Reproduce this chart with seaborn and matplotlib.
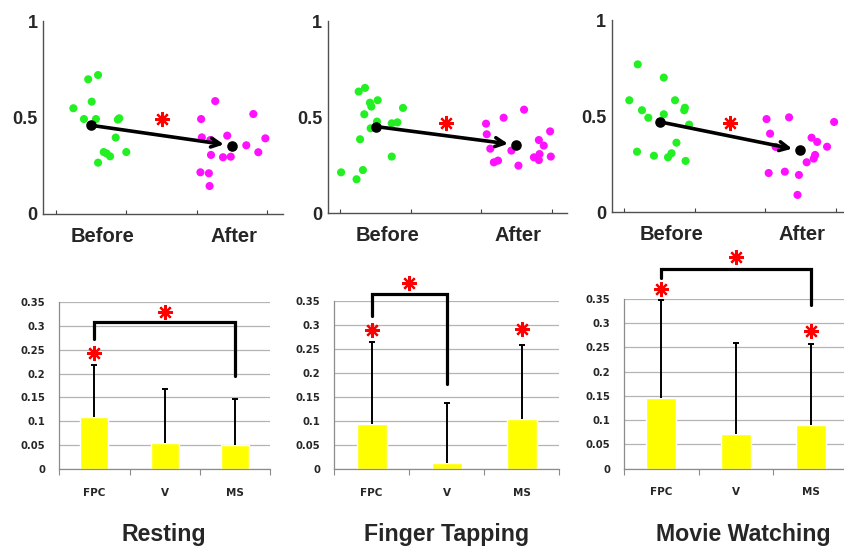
import numpy as np
import pandas as pd
import matplotlib
matplotlib.use("Agg")
import matplotlib.pyplot as plt
import seaborn as sns

# ---------------------------------------------------------------- data
conditions = ["Resting", "Finger Tapping", "Movie Watching"]
phases = ["Before", "After"]

# per-subject values (x = jittered position, y = value)
rest_before_x = [1.25, 1.46, 1.60, 1.51, 1.40, 1.57, 1.88, 1.90, 1.85, 1.68, 1.72, 1.77, 2.00, 1.60]
rest_before_y = [0.548, 0.698, 0.720, 0.582, 0.492, 0.492, 0.489, 0.496, 0.396, 0.321, 0.314, 0.299, 0.321, 0.266]
rest_after_x = [3.06, 3.26, 3.07, 3.19, 3.43, 3.20, 3.37, 3.48, 3.05, 3.17, 3.18, 3.70, 3.80, 3.87, 3.97]
rest_after_y = [0.492, 0.585, 0.397, 0.383, 0.406, 0.306, 0.294, 0.297, 0.216, 0.211, 0.145, 0.356, 0.518, 0.320, 0.392]

tap_before_x = [1.01, 1.23, 1.32, 1.28, 1.26, 1.35, 1.34, 1.42, 1.44, 1.53, 1.52, 1.43, 1.73, 1.81, 1.89, 1.73]
tap_before_y = [0.213, 0.177, 0.225, 0.385, 0.633, 0.652, 0.515, 0.575, 0.555, 0.588, 0.477, 0.442, 0.468, 0.473, 0.548, 0.295]
tap_after_x = [3.07, 3.08, 3.32, 3.61, 3.13, 3.18, 3.24, 3.43, 3.53, 3.82, 3.89, 3.83, 3.75, 3.82, 3.99, 3.98]
tap_after_y = [0.466, 0.411, 0.497, 0.539, 0.336, 0.265, 0.274, 0.326, 0.248, 0.381, 0.352, 0.308, 0.291, 0.277, 0.295, 0.426]

movie_before_x = [1.19, 1.07, 1.25, 1.34, 1.18, 1.42, 1.56, 1.56, 1.72, 1.85, 1.86, 1.92, 1.74, 1.62, 1.67, 1.87]
movie_before_y = [0.769, 0.582, 0.530, 0.491, 0.314, 0.293, 0.700, 0.509, 0.582, 0.530, 0.543, 0.455, 0.361, 0.285, 0.306, 0.266]
movie_after_x = [3.02, 3.34, 3.07, 3.98, 3.66, 3.74, 3.88, 3.15, 3.71, 3.69, 3.59, 3.05, 3.28, 3.48, 3.46]
movie_after_y = [0.484, 0.493, 0.408, 0.469, 0.387, 0.365, 0.340, 0.339, 0.297, 0.278, 0.259, 0.203, 0.210, 0.193, 0.089]

scatter_sets = [
    (rest_before_x, rest_before_y, rest_after_x, rest_after_y),
    (tap_before_x, tap_before_y, tap_after_x, tap_after_y),
    (movie_before_x, movie_before_y, movie_after_x, movie_after_y),
]
change_star_y = [0.492, 0.468, 0.465]

# bar charts per region
regions = ["FPC", "V", "MS"]
rest_mean = [0.110, 0.055, 0.050]
rest_upper = [0.218, 0.168, 0.146]
tap_mean = [0.095, 0.013, 0.105]
tap_upper = [0.265, 0.138, 0.259]
movie_mean = [0.145, 0.072, 0.090]
movie_upper = [0.348, 0.258, 0.257]
bar_means = [rest_mean, tap_mean, movie_mean]
bar_uppers = [rest_upper, tap_upper, movie_upper]

star_regions = [[0], [0, 2], [0, 2]]
star_heights = [[0.242], [0.289, 0.292], [0.371, 0.283]]
bracket_ends = [(0, 2), (0, 1), (0, 2)]
bracket_top = [0.308, 0.364, 0.412]
bracket_left_foot = [0.272, 0.318, 0.393]
bracket_right_foot = [0.195, 0.178, 0.337]
bracket_star = [0.329, 0.387, 0.436]

# ---------------------------------------------------------------- style
sns.set_theme(style="white")
plt.rcParams["font.family"] = ["Liberation Sans", "DejaVu Sans"]

GREEN = "#22f022"
MAGENTA = "#ff10ff"
STAR = dict(marker=(8, 2, 0), color="red", markeredgecolor="red",
            markersize=10.5, markeredgewidth=1.6,
            linestyle="none", zorder=6, clip_on=False)

fig = plt.figure(figsize=(8.44, 5.49), dpi=100)
W, H = 844.0, 549.0


def rect(left, right, top, bottom):
    return [left / W, 1 - bottom / H, (right - left) / W, (bottom - top) / H]


top_rects = [rect(43, 283, 21, 214), rect(327.7, 567, 21, 213.3), rect(611.7, 851, 20, 212)]
bot_rects = [rect(59.3, 270, 301.7, 469.3), rect(334, 559.3, 300.7, 469.3), rect(624, 848, 298.7, 468.7)]
title_x = [164, 447, 743]

for i, cond in enumerate(conditions):
    # ---------------- before / after scatter
    ax = fig.add_axes(top_rects[i])
    bx, by, axx, ay = scatter_sets[i]
    df = pd.DataFrame({
        "x": list(bx) + list(axx),
        "y": list(by) + list(ay),
        "phase": ["Before"] * len(bx) + ["After"] * len(axx),
    })
    sns.scatterplot(data=df, x="x", y="y", hue="phase",
                    palette={"Before": GREEN, "After": MAGENTA},
                    s=34, linewidth=0, legend=False, ax=ax, zorder=3)
    m_before, m_after = np.mean(by), np.mean(ay)
    ax.annotate("", xy=(3.5, m_after), xytext=(1.5, m_before),
                arrowprops=dict(arrowstyle="->", lw=2.6, color="black",
                                shrinkA=0, shrinkB=6, mutation_scale=16),
                zorder=4)
    sns.scatterplot(x=[1.5, 3.5], y=[m_before, m_after], color="black",
                    s=58, linewidth=0, ax=ax, zorder=5)
    ax.plot([2.5], [change_star_y[i]], **STAR)

    ax.set_xlim(0.82, 4.22)
    ax.set_ylim(0, 1)
    ax.set_xlabel("")
    ax.set_ylabel("")
    ax.set_xticks([1, 2, 3, 4])
    ax.set_xticklabels([])
    ax.set_xticks([1.67, 3.52], minor=True)
    ax.set_xticklabels(phases, minor=True, fontsize=14.5, fontweight="bold")
    ax.tick_params(axis="x", which="major", direction="in", length=3,
                   width=0.8, color="#404040", bottom=True)
    ax.tick_params(axis="x", which="minor", length=0, pad=9.5, bottom=True)
    ax.set_yticks([0, 0.5, 1])
    ax.set_yticklabels(["0", "0.5", "1"], fontsize=13, fontweight="bold")
    ax.tick_params(axis="y", length=0, pad=4)
    for side in ("top", "right"):
        ax.spines[side].set_visible(False)
    for side in ("left", "bottom"):
        ax.spines[side].set_color("#505050")
        ax.spines[side].set_linewidth(1.0)
    ax.set_facecolor("none")

    # ---------------- region bars
    ax = fig.add_axes(bot_rects[i])
    means = np.array(bar_means[i])
    uppers = np.array(bar_uppers[i])
    bdf = pd.DataFrame({"region": regions, "value": means})
    sns.barplot(data=bdf, x="region", y="value", order=regions, color="#ffff00",
                saturation=1, width=0.4, errorbar=None, ax=ax, zorder=2)
    pos = np.arange(len(regions))
    eb = ax.errorbar(pos, means, yerr=[np.zeros_like(means), uppers - means],
                     fmt="none", ecolor="black", elinewidth=1.4, capsize=2.5,
                     capthick=1.4, zorder=3)
    # only the upper whisker carries a cap
    eb[1][0].set_visible(False)
    for r, h in zip(star_regions[i], star_heights[i]):
        ax.plot([r], [h], **STAR)
    a, b = bracket_ends[i]
    ax.plot([a, a, b, b],
            [bracket_left_foot[i], bracket_top[i], bracket_top[i], bracket_right_foot[i]],
            color="black", lw=2.3, solid_joinstyle="miter", clip_on=False, zorder=5)
    ax.plot([(a + b) / 2], [bracket_star[i]], **STAR)

    ax.set_xlim(-0.5, 2.5)
    ax.set_ylim(0, 0.35)
    ax.set_xlabel("")
    ax.set_ylabel("")
    yt = np.arange(0, 0.351, 0.05)
    ax.set_yticks(yt)
    ax.set_yticklabels(["0", "0.05", "0.1", "0.15", "0.2", "0.25", "0.3", "0.35"],
                       fontsize=7.2, fontweight="bold", family="DejaVu Sans")
    ax.tick_params(axis="y", length=0, pad=10)
    ax.set_xticks([-0.5, 0.5, 1.5, 2.5])
    ax.set_xticklabels([])
    ax.set_xticks(pos, minor=True)
    ax.set_xticklabels(regions, minor=True, fontsize=7.5, fontweight="bold",
                       family="DejaVu Sans")
    ax.tick_params(axis="x", which="major", direction="out", length=4,
                   width=0.8, color="#8c8c8c", bottom=True)
    ax.tick_params(axis="x", which="minor", length=0, pad=13.5, bottom=True)
    ax.yaxis.grid(True, color="#b4b4b4", lw=0.9, zorder=0)
    ax.set_axisbelow(True)
    for side in ("top", "right"):
        ax.spines[side].set_visible(False)
    for side in ("left", "bottom"):
        ax.spines[side].set_color("#8c8c8c")
        ax.spines[side].set_linewidth(0.9)
    ax.set_facecolor("none")

    fig.text(title_x[i] / W, 1 - 540.5 / H, cond, ha="center", va="baseline",
             fontsize=16.7, fontweight="bold")

fig.savefig("out.png", dpi=100)
